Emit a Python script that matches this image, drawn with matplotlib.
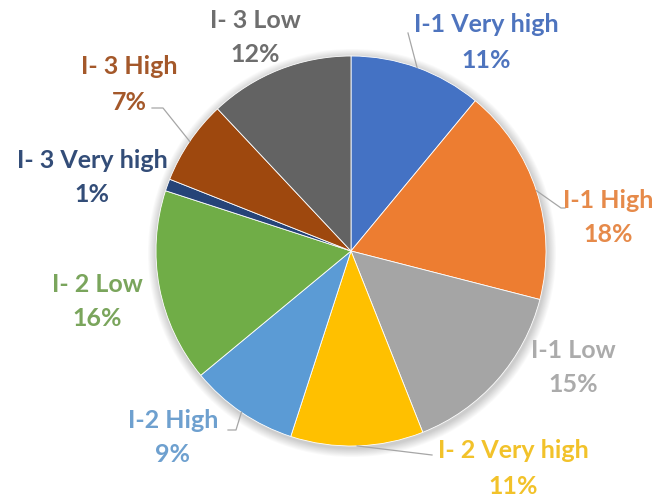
import numpy as np
import matplotlib
matplotlib.use("Agg")
import matplotlib.pyplot as plt
from matplotlib.patches import Circle

labels = ["I-1 Very high", "I-1 High", "I-1 Low", "I- 2 Very high", "I-2 High",
          "I- 2 Low", "I- 3 Very high", "I- 3 High", "I- 3 Low"]
shares = [11, 18, 15, 11, 9, 16, 1, 7, 12]
colors = ["#4472C4", "#ED7D31", "#A5A5A5", "#FFC000", "#5B9BD5",
          "#70AD47", "#264478", "#9E480E", "#636363"]
text_colors = ["#4E74BE", "#E68A4A", "#ABABAB", "#F2C22A", "#6EA0CF",
               "#7AA55C", "#334D78", "#A4582A", "#6E6E6E"]

W, H = 661, 497
fig = plt.figure(figsize=(W / 100, H / 100), dpi=100)
ax = fig.add_axes([0, 0, 1, 1])

cx, cy, r = 351, H - 251, 195

# soft shadow around the pie
for i in range(10):
    ax.add_patch(Circle((cx + 1, cy - 2), r + 1 + i * 0.9, color="black",
                        alpha=0.018, lw=0, zorder=0))

wedges, _ = ax.pie(shares, colors=colors, startangle=90, counterclock=False,
                   center=(cx, cy), radius=r, frame=True,
                   wedgeprops=dict(edgecolor="white", linewidth=0.6))
ax.set_xlim(0, W)
ax.set_ylim(0, H)
ax.set_aspect("equal")
ax.axis("off")

# label centres (line 1 and line 2, in pixels from the top)
label_pos = [(486, 25), (608, 200), (573, 350), (513, 451), (173, 420),
             (97, 284), (92, 160), (129, 67), (255, 20)]
line_gap = 35

# leader line elbow points
elbows = {0: [(408, 33)], 1: [(561, 208), (565, 208)], 3: [(432, 455)],
          4: [(236, 430), (228, 430)], 7: [(163, 108), (152, 108)]}

for i, (w, lab, v) in enumerate(zip(wedges, labels, shares)):
    x, y = label_pos[i]
    kw = dict(ha="center", va="center", fontsize=18, fontweight="bold",
              family="Lato", color=text_colors[i], zorder=5)
    ax.text(x, H - y, lab, **kw)
    ax.text(x, H - y - line_gap, f"{v}%", **kw)
    if i in elbows:
        ang = np.deg2rad((w.theta1 + w.theta2) / 2)
        px, py = cx + r * np.cos(ang), cy + r * np.sin(ang)
        pts = [(px, py)] + [(ex, H - ey) for ex, ey in elbows[i]]
        xs, ys = zip(*pts)
        ax.plot(xs, ys, color="#A6A6A6", lw=0.9, zorder=4)

fig.savefig("out.png", dpi=100, facecolor="white")
